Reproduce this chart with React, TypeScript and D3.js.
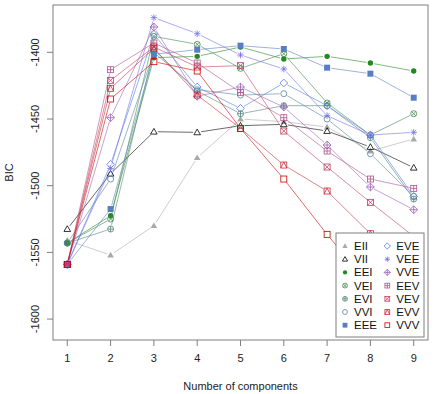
import React from 'react';
import * as d3 from 'd3';

const components = [1, 2, 3, 4, 5, 6, 7, 8, 9];

const models = ['EII', 'VII', 'EEI', 'VEI', 'EVI', 'VVI', 'EEE', 'EVE', 'VEE', 'VVE', 'EEV', 'VEV', 'EVV', 'VVV'];

const colors = ['#A9A9A9', '#000000', '#218B21', '#41884F', '#508476', '#58819C', '#597DC3', '#5178EA', '#716EE7', '#9B60B8', '#B2508B', '#C03F60', '#C82A36', '#CC0000'];

const symbols = ['triFilled', 'tri', 'circleFilled', 'circleX', 'circlePlus', 'circle', 'squareFilled', 'diamond', 'star', 'diamondPlus', 'squarePlus', 'squareX', 'squareTri', 'square'];

const EII = [-1541, -1552, -1530, -1479, -1450, -1452, -1456, -1474, -1465];
const VII = [-1532.5, -1491, -1459.5, -1460, -1455, -1454, -1459, -1471, -1486.5];
const EEI = [-1543, -1522.5, -1404, -1403, -1396, -1405, -1403, -1408, -1414];
const VEI = [-1543, -1525, -1388, -1394, -1412, -1401, -1438, -1462, -1446];
const EVI = [-1543, -1532.5, -1398, -1429, -1446, -1440, -1440, -1464, -1510];
const VVI = [-1543, -1495, -1400, -1428, -1432, -1431, -1450, -1476, -1508];
const EEE = [-1559, -1517.5, -1401.5, -1398, -1395, -1397.5, -1411.5, -1416, -1434];
const EVE = [-1559, -1484, -1386.5, -1426, -1442, -1423, -1440, -1462, -1508];
const VEE = [-1559, -1487, -1374, -1386, -1402, -1412.5, -1447.5, -1462, -1460];
const VVE = [-1559, -1449, -1381, -1433, -1426, -1441, -1469.5, -1501, -1518];
const EEV = [-1559, -1413, -1393, -1408, -1430, -1449, -1474, -1495, -1502];
const VEV = [-1559, -1421, -1396, -1411, -1410, -1459, -1486, -1512.5, -1538];
const EVV = [-1559, -1427, -1397, -1432, -1457, -1484.5, -1504, -1536, -1562];
const VVV = [-1559, -1435, -1407, -1414, -1457, -1495, -1536.5, -1576, -1606.5];

const bic = [EII, VII, EEI, VEI, EVI, VVI, EEE, EVE, VEE, VVE, EEV, VEV, EVV, VVV];

const yTicks = [-1600, -1550, -1500, -1450, -1400];

function Symbol({ type, x, y, s, color }) {
  const sw = 0.8;
  const open = { fill: 'none', stroke: color, strokeWidth: sw };
  const filled = { fill: color, stroke: 'none' };
  const tri = `M${x},${y - s * 1.1} L${x + s * 1.1},${y + s * 0.8} L${x - s * 1.1},${y + s * 0.8} Z`;
  const dia = `M${x},${y - s * 1.3} L${x + s * 1.3},${y} L${x},${y + s * 1.3} L${x - s * 1.3},${y} Z`;
  const plus = (r) => `M${x - r},${y} H${x + r} M${x},${y - r} V${y + r}`;
  const cross = (r) => `M${x - r},${y - r} L${x + r},${y + r} M${x - r},${y + r} L${x + r},${y - r}`;
  switch (type) {
    case 'triFilled':
      return <path d={tri} {...filled} />;
    case 'tri':
      return <path d={tri} {...open} />;
    case 'circleFilled':
      return <circle cx={x} cy={y} r={s * 0.9} {...filled} />;
    case 'circle':
      return <circle cx={x} cy={y} r={s} {...open} />;
    case 'circleX':
      return (
        <g>
          <circle cx={x} cy={y} r={s} {...open} />
          <path d={cross(s * 0.7)} {...open} />
        </g>
      );
    case 'circlePlus':
      return (
        <g>
          <circle cx={x} cy={y} r={s} {...open} />
          <path d={plus(s)} {...open} />
        </g>
      );
    case 'squareFilled':
      return <rect x={x - s} y={y - s} width={s * 2} height={s * 2} {...filled} />;
    case 'square':
      return <rect x={x - s} y={y - s} width={s * 2} height={s * 2} {...open} />;
    case 'squarePlus':
      return (
        <g>
          <rect x={x - s} y={y - s} width={s * 2} height={s * 2} {...open} />
          <path d={plus(s)} {...open} />
        </g>
      );
    case 'squareX':
      return (
        <g>
          <rect x={x - s} y={y - s} width={s * 2} height={s * 2} {...open} />
          <path d={cross(s)} {...open} />
        </g>
      );
    case 'squareTri':
      return (
        <g>
          <rect x={x - s} y={y - s} width={s * 2} height={s * 2} {...open} />
          <path d={`M${x - s},${y + s} L${x},${y - s} L${x + s},${y + s}`} {...open} />
        </g>
      );
    case 'diamond':
      return <path d={dia} {...open} />;
    case 'diamondPlus':
      return (
        <g>
          <path d={dia} {...open} />
          <path d={plus(s * 1.3)} {...open} />
        </g>
      );
    case 'star':
      return <path d={plus(s * 1.1) + ' ' + cross(s * 0.8)} {...open} />;
    default:
      return null;
  }
}

function App() {
  const width = 434;
  const height = 394;
  const plot = { left: 53, right: 428, top: 5, bottom: 340 };

  const xScale = d3.scaleLinear().domain([0.67, 9.33]).range([plot.left, plot.right]);
  const yScale = d3.scaleLinear().domain([-1615.7, -1364.5]).range([plot.bottom, plot.top]);

  // type "b" style: segments stop short of each point
  const gap = 4;
  const segments = (values) =>
    d3.pairs(values.map((v, i) => [xScale(components[i]), yScale(v)])).map(([a, b]) => {
      const dx = b[0] - a[0];
      const dy = b[1] - a[1];
      const len = Math.hypot(dx, dy);
      if (len <= gap * 2) return null;
      const ux = dx / len;
      const uy = dy / len;
      return `M${a[0] + ux * gap},${a[1] + uy * gap} L${b[0] - ux * gap},${b[1] - uy * gap}`;
    });

  const font = 'Liberation Sans, Arial, sans-serif';
  const legend = { x: 336, y: 233, w: 88, h: 104, row: 13.2 };

  return (
    <svg width={width} height={height} style={{ position: 'absolute', left: 0, top: 0 }} fontFamily={font}>
      <rect width={width} height={height} fill="#fff" />
      <g>
        {bic.map((values, m) => (
          <g key={models[m]}>
            {segments(values).map((d, i) =>
              d ? <path key={i} d={d} fill="none" stroke={colors[m]} strokeWidth={0.9} strokeOpacity={0.65} /> : null
            )}
          </g>
        ))}
        {bic.map((values, m) => (
          <g key={models[m]}>
            {values.map((v, i) => (
              <Symbol key={i} type={symbols[m]} x={xScale(components[i])} y={yScale(v)} s={3} color={colors[m]} />
            ))}
          </g>
        ))}
      </g>

      <rect
        x={plot.left}
        y={plot.top}
        width={plot.right - plot.left}
        height={plot.bottom - plot.top}
        fill="none"
        stroke="#7f7f7f"
        strokeWidth={1}
      />

      <g>
        {components.map((c) => (
          <g key={c} transform={`translate(${xScale(c)},${plot.bottom})`}>
            <line y2={6} stroke="#7f7f7f" />
            <text y={22} textAnchor="middle" fontSize={11} fill="#222">
              {c}
            </text>
          </g>
        ))}
        {yTicks.map((t) => (
          <g key={t} transform={`translate(${plot.left},${yScale(t)})`}>
            <line x2={-6} stroke="#7f7f7f" />
            <text transform="translate(-18,0) rotate(-90)" textAnchor="middle" dominantBaseline="central" fontSize={11} fill="#222">
              {t}
            </text>
          </g>
        ))}
        <text x={(plot.left + plot.right) / 2} y={390} textAnchor="middle" fontSize={11} fill="#222">
          Number of components
        </text>
        <text transform={`translate(9,${(plot.top + plot.bottom) / 2}) rotate(-90)`} textAnchor="middle" dominantBaseline="central" fontSize={11} fill="#222">
          BIC
        </text>
      </g>

      <g>
        <rect x={legend.x} y={legend.y} width={legend.w} height={legend.h} fill="#fff" stroke="#7f7f7f" />
        {models.map((name, m) => {
          const col = Math.floor(m / 7);
          const row = m % 7;
          const sx = col === 0 ? 345 : 387.3;
          const cy = 246 + row * legend.row;
          return (
            <g key={name}>
              <Symbol type={symbols[m]} x={sx} y={cy} s={2.4} color={colors[m]} />
              <text x={sx + 9} y={cy} dominantBaseline="central" fontSize={11.5} fill="#111">
                {name}
              </text>
            </g>
          );
        })}
      </g>
    </svg>
  );
}

export default App;
